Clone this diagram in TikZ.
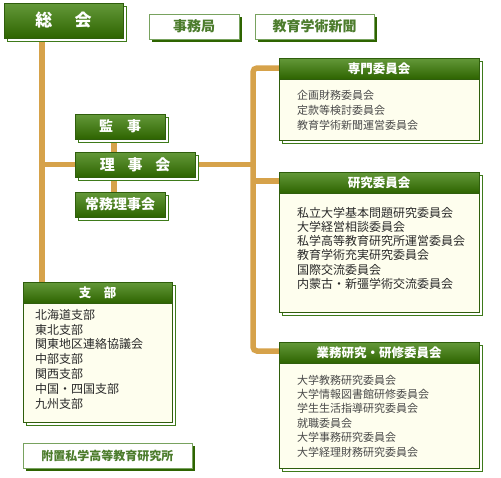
\documentclass[tikz,border=0pt]{standalone}
\usepackage{fontspec}
\setmainfont{Noto Sans CJK JP}
\usetikzlibrary{calc}
\definecolor{gtop}{HTML}{64993A}
\definecolor{gbot}{HTML}{2E6400}
\definecolor{gborder}{HTML}{2F5E0C}
\definecolor{gshadow}{HTML}{3E7A1A}
\definecolor{cream}{HTML}{FEFEEE}
\definecolor{lineor}{HTML}{D6A24A}
\definecolor{gtext}{HTML}{4C7C2C}
\definecolor{ltext}{HTML}{2A2A2A}
\newcommand{\fs}[1]{\fontsize{#1}{#1}\selectfont}
\tikzset{
  gbox/.style={draw=gborder, line width=0.8pt, top color=gtop, bottom color=gbot, text=white, minimum height=25pt, inner sep=0pt, font=\fs{14}\bfseries},
  wbox/.style={draw=gshadow!70, line width=0.8pt, fill=white, text=gtext, minimum height=25pt, inner sep=0pt, font=\fs{14}\bfseries},
  cbox/.style={draw=gborder, line width=0.8pt, fill=cream, inner sep=0pt},
  hbox/.style={draw=gborder, line width=0.8pt, top color=gtop, bottom color=gbot, text=white, minimum height=21pt, inner sep=0pt, font=\fs{12.5}\bfseries},
  lst/.style={align=left, inner sep=0pt, text=ltext, anchor=north west},
  conn/.style={draw=lineor, line width=5.5pt},
  thinshadow/.style={draw=gshadow, line width=0.8pt},
  thickshadow/.style={draw=gbot, line width=3pt},
}
\begin{document}
\begin{tikzpicture}[x=1pt,y=-1pt]
\useasboundingbox[fill=white] (0,0) rectangle (501,477);

% connector junction coordinates
\coordinate (trunkT) at (42,38);
\coordinate (trunkJ) at (42,164.5);
\coordinate (trunkB) at (42,282);
\coordinate (midT) at (114,139);
\coordinate (midB) at (114,192);
\coordinate (rJ) at (253,164.5);
\coordinate (rT) at (253,68);
\coordinate (rM) at (253,181);
\coordinate (rB) at (253,351);

% connectors (behind boxes)
\draw[conn] (trunkT) -- (trunkB);
\draw[conn] (trunkJ) -- (110,164.5);
\draw[conn] (midT) -- (midB);
\draw[conn] (160,164.5) -- (rJ);
\draw[conn, rounded corners=4pt] (285,68) -- (rT) -- (rB) -- (285,351);
\draw[conn] (rM) -- (285,181);

% shadows (drawn first, boxes on top)
\foreach \a/\b/\c/\d in {4/3/123/38, 75/114/165/139, 75/152/195/177, 75/192/165/217, 279/58/479/140, 279/172/479/312, 279/342/479/468, 23/282/172/422}{
  \draw[thinshadow, fill=white] (\a+3,\b+3) rectangle (\c+3,\d+3);
}
\foreach \a/\b/\c/\d in {149/14/239/39, 255/14/374/39, 23/443/192/468}{
  \draw[thickshadow] (\c+1.5,\b+3) -- (\c+1.5,\d+1.5) -- (\a+3,\d+1.5);
}

% top row
\node[gbox, minimum width=119pt, minimum height=35pt, font=\fs{17}\bfseries] (soukai) at (63.5,20.5) {総\hspace{1.3em}会};
\node[wbox, minimum width=90pt] (jimu) at (194,26.5) {事務局};
\node[wbox, minimum width=119pt] (shinbun) at (314.5,26.5) {教育学術新聞};

% board
\node[gbox, minimum width=90pt] (kanji) at (120,126.5) {監\hspace{1em}事};
\node[gbox, minimum width=120pt, font=\fs{15}\bfseries] (riji) at (135,164.5) {理\hspace{0.85em}事\hspace{0.85em}会};
\node[gbox, minimum width=90pt] (joumu) at (120,204.5) {常務理事会};

% 専門委員会
\node[cbox, minimum width=200pt, minimum height=82pt] (senmon) at (379,99) {};
\node[hbox, minimum width=200pt, anchor=north] (senmonH) at (senmon.north) {専門委員会};
\node[lst, font=\fontsize{11}{15}\selectfont, text=ltext!85] (senmonL) at (297,90.5) {企画財務委員会\\定款等検討委員会\\教育学術新聞運営委員会};

% 研究委員会
\node[cbox, minimum width=200pt, minimum height=140pt] (kenkyu) at (379,242) {};
\node[hbox, minimum width=200pt, anchor=north] (kenkyuH) at (kenkyu.north) {研究委員会};
\node[lst, font=\fontsize{12}{14.2}\selectfont] (kenkyuL) at (297,207) {私立大学基本問題研究委員会\\大学経営相談委員会\\私学高等教育研究所運営委員会\\教育学術充実研究委員会\\国際交流委員会\\内蒙古・新彊学術交流委員会};

% 業務研究・研修委員会
\node[cbox, minimum width=200pt, minimum height=126pt] (gyomu) at (379,405) {};
\node[hbox, minimum width=200pt, anchor=north] (gyomuH) at (gyomu.north) {業務研究・研修委員会};
\node[lst, font=\fontsize{11}{14.4}\selectfont, text=ltext!85] (gyomuL) at (297,374.5) {大学教務研究委員会\\大学情報図書館研修委員会\\学生生活指導研究委員会\\就職委員会\\大学事務研究委員会\\大学経理財務研究委員会};

% 支部
\node[cbox, minimum width=149pt, minimum height=140pt] (shibu) at (97.5,352) {};
\node[hbox, minimum width=149pt, anchor=north] (shibuH) at (shibu.north) {支\hspace{1em}部};
\node[lst, font=\fontsize{12}{14.8}\selectfont] (shibuL) at (35,309) {北海道支部\\東北支部\\関東地区連絡協議会\\中部支部\\関西支部\\中国・四国支部\\九州支部};

% 附置
\node[wbox, minimum width=169pt, font=\fs{12}\bfseries] (fuchi) at (107.5,455.5) {附置私学高等教育研究所};
\end{tikzpicture}
\end{document}
